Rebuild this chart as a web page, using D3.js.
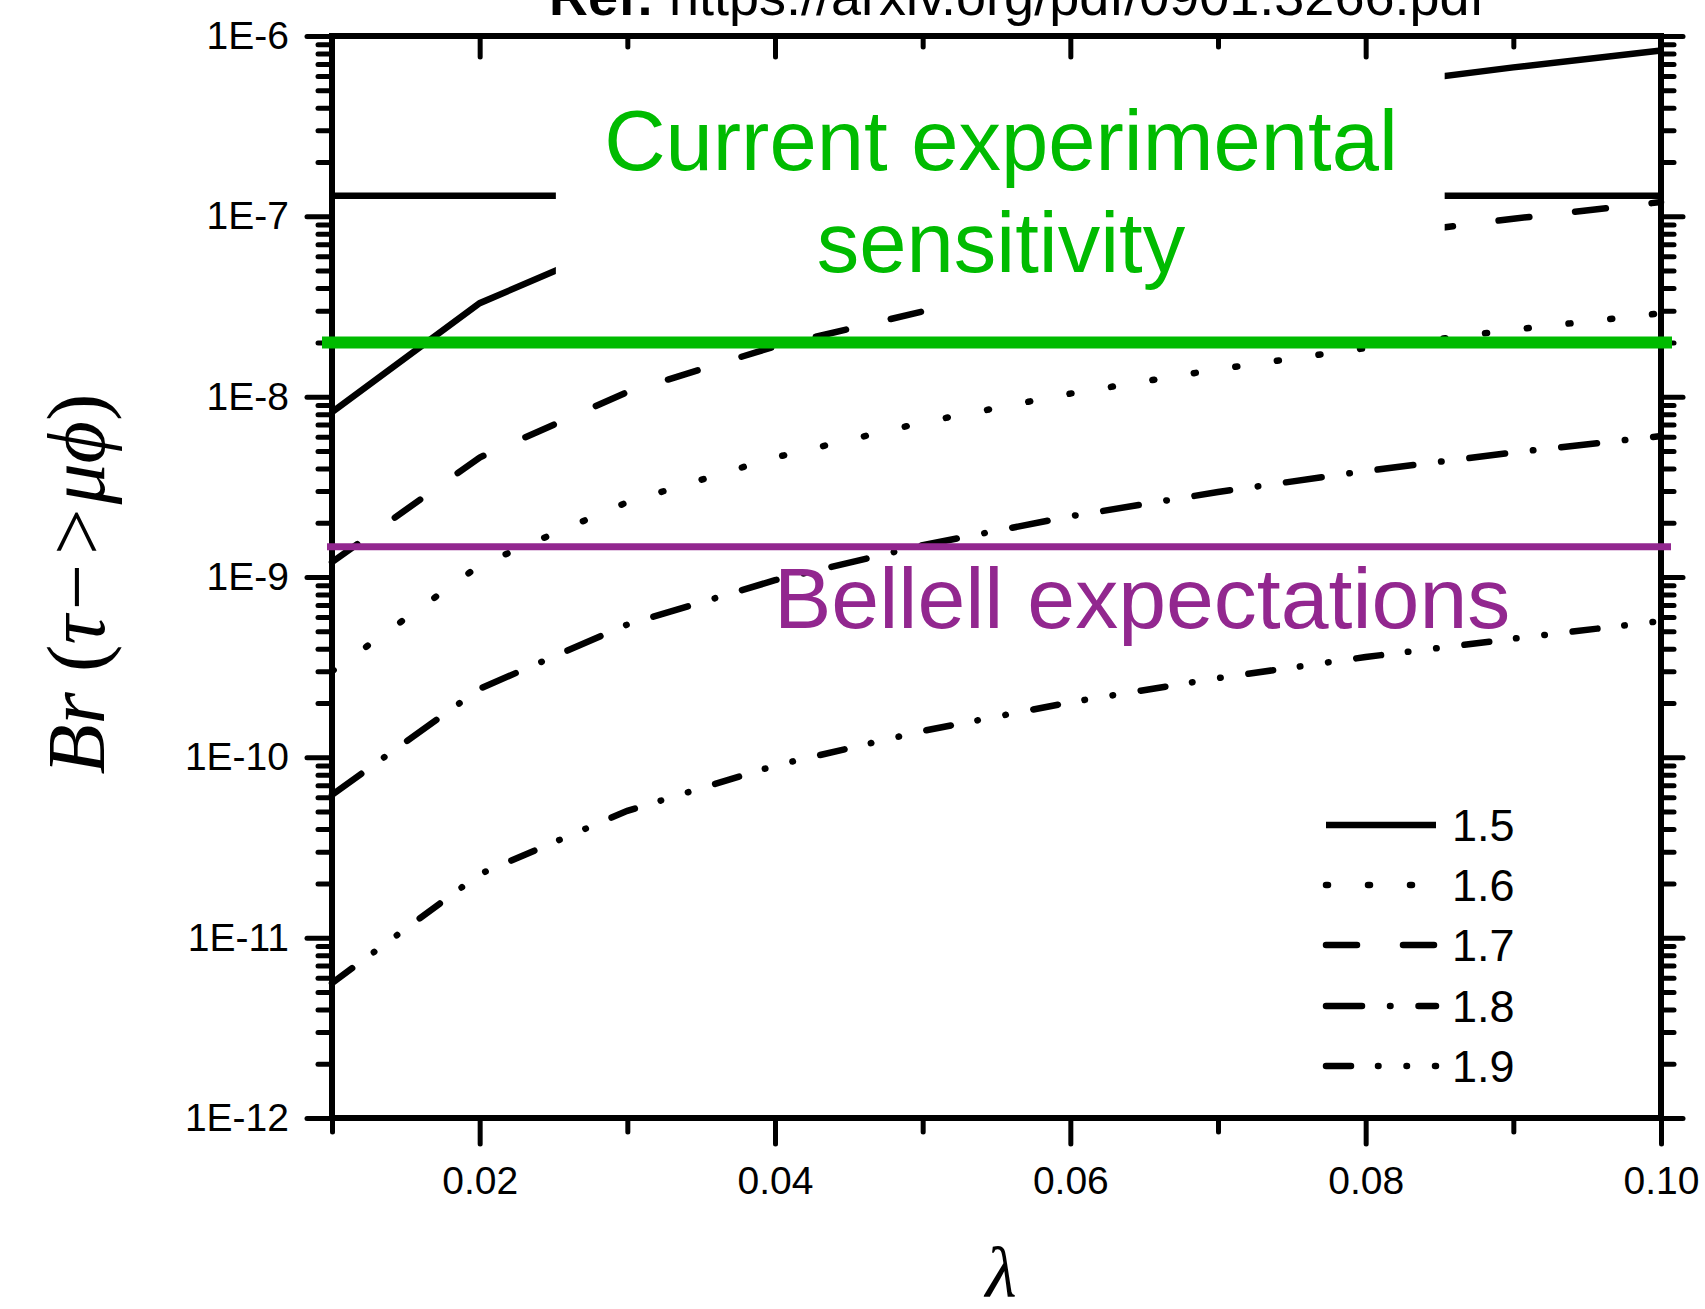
<!DOCTYPE html>
<html>
<head>
<meta charset="utf-8">
<script src="https://cdn.jsdelivr.net/npm/d3@7"></script>
<style>
  body { margin: 0; background: #fff; }
  svg { display: block; }
  .axis text { font-family: "Liberation Sans", Arial, sans-serif; font-size: 39px; fill: #000; }
  .axis .tick line { stroke: #000; stroke-width: 5; stroke-linecap: round; }
  .axis .domain { display: none; }
</style>
</head>
<body>
<div id="vis"></div>
<script>
// lambda values on the x axis
const lambdas = [0.01, 0.02, 0.03, 0.04, 0.05, 0.06, 0.07, 0.08, 0.09, 0.10];

// Br(tau -> mu phi), one array per curve
const br15 = [8.2e-9, 3.3e-8, 7.4e-8, 1.32e-7, 2.06e-7, 2.97e-7, 4.04e-7, 5.28e-7, 6.7e-7, 8.3e-7];
const br16 = [3.0e-10, 1.16e-9, 2.6e-9, 4.6e-9, 7.2e-9, 1.04e-8, 1.42e-8, 1.86e-8, 2.35e-8, 2.9e-8];
const br17 = [1.21e-9, 4.6e-9, 1.06e-8, 1.9e-8, 2.97e-8, 4.3e-8, 5.85e-8, 7.65e-8, 9.7e-8, 1.2e-7];
const br18 = [6.2e-11, 2.4e-10, 5.45e-10, 9.6e-10, 1.5e-9, 2.17e-9, 2.96e-9, 3.87e-9, 4.9e-9, 6.05e-9];
const br19 = [5.6e-12, 2.25e-11, 5.05e-11, 9.0e-11, 1.4e-10, 2.02e-10, 2.75e-10, 3.6e-10, 4.55e-10, 5.7e-10];

const seriesNames = ["1.5", "1.6", "1.7", "1.8", "1.9"];
const seriesValues = [br15, br16, br17, br18, br19];

// horizontal reference levels
const oldBound = 1.3e-7;      // black line of the original plot
const currentSens = 2.0e-8;   // green
const belle2Exp = 1.47e-9;    // purple

const xTicksMajor = [0.02, 0.04, 0.06, 0.08, 0.10];
const xTicksMinor = [0.01, 0.03, 0.05, 0.07, 0.09];
const yExponents = [-12, -11, -10, -9, -8, -7, -6];

const W = 1705, H = 1309;
const L = 332, R = 1661, T = 36, B = 1118;

const svg = d3.select("#vis").append("svg").attr("width", W).attr("height", H);

const x = d3.scaleLinear().domain([0.01, 0.10]).range([L, R]);
const y = d3.scaleLog().domain([1e-12, 1e-6]).range([B, T]);

const yMajor = yExponents.map(e => Math.pow(10, e));
const yMinor = [];
yExponents.slice(0, -1).forEach(e => {
  for (let m = 2; m <= 9; m++) yMinor.push(m * Math.pow(10, e));
});

// line styles: solid, dot, dash, dash-dot, dash-dot-dot
const dashes = ["none", "2,40", "31,46", "36,28,0.5,28", "25,27,0.5,28,0.5,28"];

const line = d3.line().x(d => x(d[0])).y(d => y(d[1]));

seriesValues.forEach((vals, i) => {
  svg.append("path")
    .datum(lambdas.map((l, j) => [l, vals[j]]))
    .attr("d", line)
    .attr("fill", "none")
    .attr("stroke", "#000")
    .attr("stroke-width", 6.5)
    .attr("stroke-linecap", i === 0 ? "butt" : "round")
    .attr("stroke-dasharray", dashes[i]);
});

// old experimental bound
svg.append("line")
  .attr("x1", x(0.01)).attr("x2", x(0.10))
  .attr("y1", y(oldBound)).attr("y2", y(oldBound))
  .attr("stroke", "#000").attr("stroke-width", 6.5);

// white text box pasted over the plot
svg.append("rect")
  .attr("x", x(0.02516)).attr("y", y(7.0e-7))
  .attr("width", x(0.08535) - x(0.02516))
  .attr("height", y(3.1e-8) - y(7.0e-7))
  .attr("fill", "#fff");

// axes
const fmtE = d => "1E" + Math.round(Math.log10(d));

svg.append("g").attr("class", "axis").attr("transform", `translate(${L},0)`)
  .call(d3.axisLeft(y).tickValues(yMajor).tickSize(25).tickSizeOuter(0).tickPadding(18).tickFormat(fmtE));
svg.append("g").attr("class", "axis").attr("transform", `translate(${L},0)`)
  .call(d3.axisLeft(y).tickValues(yMinor).tickSize(14).tickSizeOuter(0).tickFormat(""));
svg.append("g").attr("class", "axis").attr("transform", `translate(${R},0)`)
  .call(d3.axisLeft(y).tickValues(yMajor).tickSize(-22).tickSizeOuter(0).tickFormat(""));
svg.append("g").attr("class", "axis").attr("transform", `translate(${R},0)`)
  .call(d3.axisLeft(y).tickValues(yMinor).tickSize(-13).tickSizeOuter(0).tickFormat(""));

svg.append("g").attr("class", "axis").attr("transform", `translate(0,${B})`)
  .call(d3.axisBottom(x).tickValues(xTicksMajor).tickSize(26).tickSizeOuter(0).tickPadding(22).tickFormat(d3.format(".2f")));
svg.append("g").attr("class", "axis").attr("transform", `translate(0,${B})`)
  .call(d3.axisBottom(x).tickValues(xTicksMinor).tickSize(14).tickSizeOuter(0).tickFormat(""));
svg.append("g").attr("class", "axis").attr("transform", `translate(0,${T})`)
  .call(d3.axisBottom(x).tickValues(xTicksMajor).tickSize(21).tickSizeOuter(0).tickFormat(""));
svg.append("g").attr("class", "axis").attr("transform", `translate(0,${T})`)
  .call(d3.axisBottom(x).tickValues(xTicksMinor).tickSize(11).tickSizeOuter(0).tickFormat(""));

// frame
svg.append("rect")
  .attr("x", L).attr("y", T).attr("width", R - L).attr("height", B - T)
  .attr("fill", "none").attr("stroke", "#000").attr("stroke-width", 6);

// highlighted levels
svg.append("line")
  .attr("x1", x(0.01) - 10).attr("x2", x(0.10) + 11)
  .attr("y1", y(currentSens)).attr("y2", y(currentSens))
  .attr("stroke", "#00bb00").attr("stroke-width", 12);
svg.append("line")
  .attr("x1", x(0.01) - 5).attr("x2", x(0.10) + 10)
  .attr("y1", y(belle2Exp)).attr("y2", y(belle2Exp))
  .attr("stroke", "#92278f").attr("stroke-width", 7);

const sans = "'Liberation Sans', Arial, Helvetica, sans-serif";

svg.append("text").attr("x", 1001).attr("y", 170)
  .attr("text-anchor", "middle").attr("font-family", sans).attr("font-size", 85)
  .attr("fill", "#00bb00").text("Current experimental");
svg.append("text").attr("x", 1001).attr("y", 272)
  .attr("text-anchor", "middle").attr("font-family", sans).attr("font-size", 85)
  .attr("fill", "#00bb00").text("sensitivity");
svg.append("text").attr("x", 774).attr("y", 628)
  .attr("font-family", sans).attr("font-size", 86)
  .attr("fill", "#92278f").text("Bellell expectations");

// reference line at the very top (cut by the page edge)
const ref = svg.append("text").attr("x", 549).attr("y", 15)
  .attr("font-family", sans).attr("font-size", 54).attr("fill", "#000");
ref.append("tspan").attr("font-weight", "bold").text("Ref:");
ref.append("tspan").text(" https://arxiv.org/pdf/0901.3266.pdf");

// legend
const legY = [825, 885, 945, 1006, 1066];
seriesNames.forEach((name, i) => {
  svg.append("line")
    .attr("x1", 1326).attr("x2", 1436)
    .attr("y1", legY[i]).attr("y2", legY[i])
    .attr("stroke", "#000").attr("stroke-width", 6.5)
    .attr("stroke-linecap", i === 0 ? "butt" : "round")
    .attr("stroke-dasharray", dashes[i]);
  svg.append("text").attr("x", 1452).attr("y", legY[i]).attr("dy", "0.36em")
    .attr("font-family", sans).attr("font-size", 45).text(name);
});

// axis titles
const serif = "'Liberation Serif', 'Times New Roman', serif";
const yt = svg.append("text")
  .attr("transform", "translate(104,584) rotate(-90)")
  .attr("text-anchor", "middle").attr("font-family", serif).attr("font-size", 82);
yt.append("tspan").attr("font-style", "italic").text("Br");
yt.append("tspan").text(" (");
yt.append("tspan").attr("font-style", "italic").text("τ−>μϕ");
yt.append("tspan").text(")");

svg.append("text").attr("x", 1001).attr("y", 1297)
  .attr("text-anchor", "middle").attr("font-family", serif).attr("font-style", "italic")
  .attr("font-size", 72).text("λ");
</script>
</body>
</html>
